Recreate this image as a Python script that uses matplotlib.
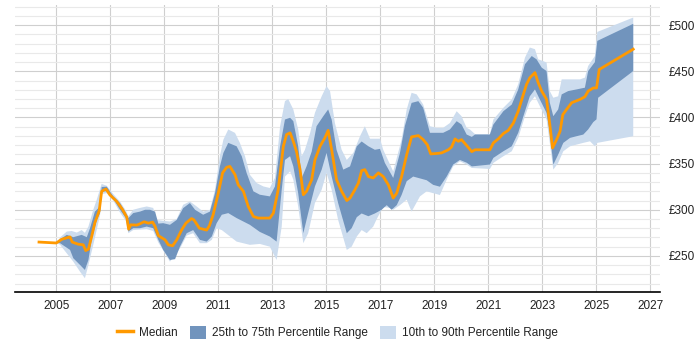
import matplotlib
matplotlib.use("Agg")
import matplotlib.pyplot as plt
from matplotlib.lines import Line2D
from matplotlib.patches import Patch
from matplotlib.ticker import FuncFormatter, MultipleLocator
import numpy as np

plt.rcParams['font.family'] = ['Liberation Sans', 'DejaVu Sans']

median_years = [2004.36, 2005.00, 2005.20, 2005.51, 2005.59, 2005.81, 2006.00, 2006.09, 2006.19, 2006.31,
                2006.43, 2006.59, 2006.68, 2006.84, 2006.99, 2007.24, 2007.46, 2007.61, 2007.68, 2007.76,
                2007.98, 2008.10, 2008.25, 2008.41, 2008.57, 2008.66, 2008.78, 2009.03, 2009.15, 2009.31,
                2009.46, 2009.64, 2009.80, 2010.01, 2010.10, 2010.30, 2010.57, 2010.67, 2010.81, 2011.00,
                2011.16, 2011.31, 2011.43, 2011.62, 2011.74, 2011.93, 2012.11, 2012.30, 2012.48, 2012.91,
                2013.04, 2013.22, 2013.41, 2013.53, 2013.66, 2013.78, 2013.90, 2014.03, 2014.15, 2014.27,
                2014.46, 2014.58, 2014.77, 2014.95, 2015.07, 2015.20, 2015.38, 2015.57, 2015.76, 2015.88,
                2016.06, 2016.19, 2016.31, 2016.43, 2016.56, 2016.74, 2016.93, 2017.11, 2017.30, 2017.48,
                2017.61, 2017.79, 2017.98, 2018.16, 2018.41, 2018.59, 2018.74, 2018.87, 2019.09, 2019.27,
                2019.52, 2019.64, 2019.77, 2019.89, 2020.01, 2020.20, 2020.39, 2020.51, 2021.06, 2021.19,
                2021.37, 2021.56, 2021.74, 2021.93, 2022.11, 2022.30, 2022.42, 2022.54, 2022.73, 2022.85,
                2022.98, 2023.16, 2023.28, 2023.38, 2023.53, 2023.66, 2023.76, 2023.90, 2024.09, 2024.40,
                2024.58, 2024.70, 2024.89, 2025.01, 2025.11, 2026.37]
median_values = [265, 264, 268, 270.6, 265, 262.7, 262, 255.8, 257.3, 271,
                 286, 299, 320, 322.5, 316, 309, 300, 292, 279, 283.7,
                 283.4, 284.8, 287, 285.5, 286.6, 282, 272, 267.4, 262, 261,
                 267.4, 278, 285.5, 290.5, 289, 280, 278, 282.6, 294.6, 318,
                 340, 346, 347, 338, 327, 320, 303.6, 292.7, 291, 291,
                 296.4, 321.7, 368.8, 381.5, 383.3, 374, 363, 343.5, 316.3, 320,
                 332.6, 354, 368.8, 378, 386, 365, 332.6, 320, 310, 312.7,
                 321.7, 329, 342.4, 343.5, 336, 334.5, 340, 336, 327, 312.7,
                 318, 336, 359.8, 379, 380.4, 376, 370.6, 360.5, 361, 361.6,
                 365, 368, 376.8, 374.2, 376, 369.6, 363, 365, 365, 372.5,
                 376.8, 382.6, 386, 394, 406.8, 425, 436, 443, 448.6, 437.7,
                 428.6, 419.6, 392.4, 367, 376, 385, 403, 408.7, 416, 419.6,
                 422.5, 428.6, 432, 432, 452, 474]

p90_years = [2005.01, 2005.14, 2005.39, 2005.57, 2005.76, 2005.94, 2006.06, 2006.19, 2006.37, 2006.50,
             2006.68, 2006.87, 2007.11, 2007.36, 2007.58, 2007.67, 2007.85, 2008.10, 2008.35, 2008.59,
             2008.72, 2008.96, 2009.21, 2009.46, 2009.70, 2009.95, 2010.20, 2010.44, 2010.69, 2010.88,
             2011.06, 2011.19, 2011.37, 2011.62, 2011.80, 2011.99, 2012.17, 2012.42, 2012.67, 2012.91,
             2013.10, 2013.29, 2013.47, 2013.59, 2013.78, 2013.96, 2014.09, 2014.21, 2014.40, 2014.58,
             2014.83, 2015.01, 2015.14, 2015.32, 2015.57, 2015.76, 2016.00, 2016.25, 2016.43, 2016.62,
             2016.99, 2017.11, 2017.48, 2017.79, 2017.98, 2018.16, 2018.35, 2018.59, 2018.84, 2019.09,
             2019.33, 2019.58, 2019.83, 2020.01, 2020.20, 2020.32, 2020.51, 2021.06, 2021.19, 2021.56,
             2021.87, 2022.11, 2022.36, 2022.54, 2022.73, 2022.85, 2023.04, 2023.16, 2023.28, 2023.41,
             2023.59, 2023.72, 2024.40, 2024.58, 2024.70, 2024.95, 2025.04, 2026.37]
p90_values = [264, 270, 276.4, 277, 275.3, 278, 275, 281.8, 300, 311,
              328, 326, 317, 309, 299, 293, 300, 302, 303.6, 302,
              289, 288, 287.3, 290, 305.4, 309, 303.6, 298, 300, 321.7,
              358, 376, 387, 383.3, 372.5, 358, 338, 329, 325.3, 323.6,
              334.5, 390.5, 417.7, 420, 408.7, 387, 358, 365, 383, 405,
              423, 434, 428.6, 394, 365, 354, 361.6, 379.7, 390.5, 377,
              377, 365, 341.6, 376, 408.7, 426.8, 425, 414, 390.5, 388.8,
              388.8, 394, 406.8, 401.4, 388.8, 387, 382, 382, 397.8, 410.5,
              419.6, 436, 464.9, 475.8, 474, 463, 461, 459.5, 428.6, 421.4,
              423, 441.3, 441.3, 443.2, 455.8, 466.6, 492.7, 508.3]

p75_years = [2005.01, 2005.14, 2005.39, 2005.63, 2005.94, 2006.13, 2006.25, 2006.43, 2006.62, 2006.68,
             2006.87, 2007.11, 2007.36, 2007.58, 2007.67, 2007.85, 2008.10, 2008.29, 2008.47, 2008.66,
             2008.78, 2008.96, 2009.21, 2009.46, 2009.70, 2009.95, 2010.14, 2010.44, 2010.69, 2010.88,
             2011.06, 2011.19, 2011.37, 2011.68, 2011.87, 2012.05, 2012.30, 2012.54, 2012.91, 2013.10,
             2013.29, 2013.47, 2013.66, 2013.78, 2013.96, 2014.09, 2014.27, 2014.46, 2014.64, 2014.89,
             2015.07, 2015.20, 2015.38, 2015.63, 2015.88, 2016.13, 2016.31, 2016.56, 2016.80, 2016.99,
             2017.17, 2017.48, 2017.73, 2017.91, 2018.16, 2018.41, 2018.59, 2018.84, 2019.09, 2019.33,
             2019.58, 2019.83, 2020.01, 2020.20, 2020.39, 2020.51, 2021.06, 2021.19, 2021.56, 2021.87,
             2022.11, 2022.36, 2022.61, 2022.79, 2022.98, 2023.16, 2023.28, 2023.41, 2023.59, 2023.72,
             2023.96, 2024.27, 2024.58, 2024.70, 2024.95, 2025.04, 2026.37]
p75_values = [264, 268, 272.8, 270.3, 272.8, 270.3, 280, 298, 303.6, 324.7,
              325, 314.5, 307.3, 296.4, 291, 296.4, 298, 300, 300, 298,
              285, 285.5, 283.7, 289, 301.8, 307.3, 300, 294.6, 298, 318,
              347, 361.6, 372.5, 368.8, 358, 339.9, 320, 316.3, 314.5, 325.3,
              368.8, 397.8, 399.7, 396, 368.8, 334.5, 347, 363, 390.5, 401.4,
              408.7, 397.8, 365, 343.5, 347, 368.8, 374, 368.8, 365, 366,
              350.8, 334.5, 361.6, 390.5, 415.8, 417.7, 410.5, 383.4, 383.4, 383.4,
              387, 396, 392.4, 381.5, 379, 381.5, 381.5, 392.4, 406.8, 414,
              430.4, 457.7, 466.6, 463, 454, 450.3, 416, 401.4, 408.7, 425,
              428.6, 430.4, 432.3, 450.3, 460, 483, 501.5]

p25_years = [2005.01, 2005.14, 2005.51, 2005.63, 2005.88, 2006.06, 2006.19, 2006.31, 2006.50, 2006.62,
             2006.68, 2006.87, 2007.11, 2007.36, 2007.58, 2007.67, 2007.85, 2008.10, 2008.35, 2008.59,
             2008.78, 2008.96, 2009.21, 2009.40, 2009.58, 2009.83, 2010.07, 2010.32, 2010.57, 2010.76,
             2010.94, 2011.13, 2011.37, 2011.68, 2012.17, 2012.54, 2012.91, 2013.16, 2013.35, 2013.47,
             2013.66, 2013.78, 2013.96, 2014.15, 2014.33, 2014.58, 2014.83, 2015.01, 2015.20, 2015.44,
             2015.76, 2015.94, 2016.13, 2016.31, 2016.56, 2016.80, 2017.05, 2017.24, 2017.42, 2017.61,
             2017.79, 2017.98, 2018.22, 2018.47, 2018.72, 2018.96, 2019.21, 2019.46, 2019.70, 2019.95,
             2020.20, 2020.39, 2021.06, 2021.19, 2021.56, 2021.87, 2022.11, 2022.36, 2022.54, 2022.73,
             2022.91, 2023.16, 2023.28, 2023.41, 2023.59, 2023.78, 2024.03, 2024.27, 2024.52, 2024.70,
             2024.89, 2025.01, 2025.07, 2026.37]
p25_values = [264, 263.8, 256.5, 247.5, 240.2, 234.8, 245.6, 267.4, 289, 296.4,
              319.9, 320, 312, 300, 291, 276.4, 280, 280, 281.8, 280,
              267.4, 256.5, 245.6, 246.5, 260, 274.6, 278, 267.4, 265.5, 271,
              285.5, 294.6, 296.4, 291, 283.7, 276, 271, 265.5, 321.7, 354,
              358, 347, 318, 274.6, 296.4, 325.3, 343.5, 361.6, 336, 307.3,
              274.6, 280, 292, 296, 293, 296, 300, 305, 300, 305,
              316, 331, 336, 334, 332, 327, 325, 336, 349, 354,
              351, 347, 349, 356.2, 363.4, 368.8, 383.4, 406.8, 423, 430.4,
              419.6, 405, 383.4, 349, 359.8, 372.5, 377.9, 379.7, 381.5, 387,
              395, 398, 421.4, 450.3]

p10_years = [2005.01, 2005.14, 2005.63, 2005.88, 2006.06, 2006.19, 2006.37, 2006.62, 2006.68, 2006.87,
             2007.11, 2007.36, 2007.58, 2007.67, 2007.85, 2008.10, 2008.35, 2008.59, 2008.78, 2009.21,
             2009.58, 2009.83, 2010.07, 2010.32, 2010.57, 2010.76, 2010.94, 2011.13, 2011.68, 2012.17,
             2012.54, 2012.91, 2013.16, 2013.35, 2013.47, 2013.66, 2013.78, 2013.96, 2014.15, 2014.33,
             2014.58, 2014.83, 2015.01, 2015.20, 2015.44, 2015.76, 2015.94, 2016.13, 2016.31, 2016.50,
             2016.74, 2016.87, 2017.11, 2017.36, 2017.48, 2017.73, 2017.98, 2018.16, 2018.47, 2018.72,
             2018.96, 2019.21, 2019.46, 2019.70, 2019.95, 2020.20, 2020.39, 2021.06, 2021.19, 2021.56,
             2021.87, 2022.11, 2022.36, 2022.54, 2022.73, 2022.91, 2023.16, 2023.28, 2023.41, 2023.59,
             2023.78, 2024.03, 2024.27, 2024.52, 2024.77, 2024.95, 2025.04, 2026.37]
p10_values = [264, 262, 243.8, 232.9, 225.8, 240, 262, 294, 317, 318,
              310, 297, 288, 274.6, 278, 278.5, 279, 277, 264.5, 243.8,
              258, 272, 274.6, 263.8, 263.8, 267.4, 280, 278, 265.5, 262,
              263, 260, 245.6, 281.8, 336, 341.6, 332.6, 303.6, 263.8, 274.6,
              307.3, 321.7, 339.9, 321.7, 289, 256.5, 260, 271, 278, 274.6,
              281.8, 290, 303, 302, 300, 305, 311, 298, 314.5, 320,
              318, 316, 332.6, 347, 352.5, 349, 345.3, 344.2, 350.8, 358,
              363.4, 377.9, 401.4, 416, 423, 412.3, 397.8, 372.5, 343.5, 350.8,
              363.4, 368.8, 370.6, 372.5, 374.2, 368.8, 372.5, 379.7]

x_ticks = list(range(2005, 2028, 2))
y_ticks = [250, 300, 350, 400, 450, 500]

LIGHT = '#ccdcee'
DARK = '#7194bd'
ORANGE = '#ff9900'

fig = plt.figure(figsize=(7, 3.5), dpi=100)
ax = fig.add_axes([0.0214, 0.166, 0.9214, 0.820])

ax.fill(np.concatenate([p90_years, p10_years[::-1]]),
        np.concatenate([p90_values, p10_values[::-1]]),
        color=LIGHT, lw=0, zorder=2)
ax.fill(np.concatenate([p75_years, p25_years[::-1]]),
        np.concatenate([p75_values, p25_values[::-1]]),
        color=DARK, lw=0, zorder=3)
ax.plot(median_years, median_values, color=ORANGE, lw=2, zorder=4,
        solid_joinstyle='round')

ax.set_xlim(2003.47, 2027.36)
ax.set_ylim(211, 522)
ax.set_xticks(x_ticks)
ax.set_yticks(y_ticks)
ax.yaxis.set_minor_locator(MultipleLocator(10))
ax.yaxis.set_major_formatter(FuncFormatter(lambda v, p: f'£{int(v)}'))

ax.set_axisbelow(True)
ax.grid(which='major', axis='both', color='#cfcfcf', lw=0.8)
ax.grid(which='minor', axis='y', color='#e9e9e9', lw=0.8)

for s in ['top', 'left', 'right']:
    ax.spines[s].set_visible(False)
ax.spines['bottom'].set_color('black')
ax.spines['bottom'].set_linewidth(1.2)

ax.yaxis.tick_right()
ax.tick_params(axis='y', which='both', length=0, pad=6, labelsize=8.5, labelcolor='#222222')
ax.tick_params(axis='x', which='both', length=0, pad=6, labelsize=8.5, labelcolor='#222222')

handles = [Line2D([0], [0], color=ORANGE, lw=2.5),
           Patch(facecolor=DARK, edgecolor='none'),
           Patch(facecolor=LIGHT, edgecolor='none')]
labels = ['Median', '25th to 75th Percentile Range', '10th to 90th Percentile Range']
fig.legend(handles, labels, loc='lower center', bbox_to_anchor=(0.482, 0.0),
           ncol=3, frameon=False, fontsize=8.5, handlelength=1.4, handleheight=1.3,
           columnspacing=1.0, handletextpad=0.5, labelcolor='#222222')

fig.savefig('out.png', dpi=100)
